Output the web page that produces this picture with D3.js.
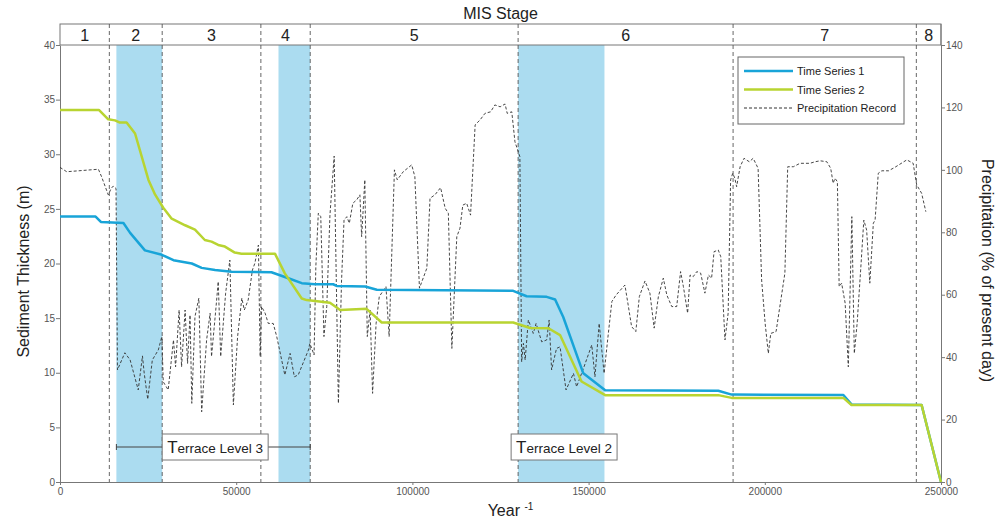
<!DOCTYPE html>
<html>
<head>
<meta charset="utf-8">
<script src="https://cdn.jsdelivr.net/npm/d3@7"></script>
<style>
  body { margin: 0; background: #fff; }
  svg { display: block; font-family: "Liberation Sans", Arial, sans-serif; }
</style>
</head>
<body>
<svg id="chart" width="997" height="520"></svg>
<script>
// MIS stage boundaries (years) and names
const stageBounds = [0, 14000, 29000, 57000, 71000, 130000, 191000, 243000, 250000];
const stageNames = ["1", "2", "3", "4", "5", "6", "7", "8"];

// shaded periods
const bands = [[16000, 29000], [62000, 71000], [130000, 154500]];

// Time Series 1 : [year, thickness m]
const series1 = [
  [0, 24.3], [10100, 24.3], [11600, 23.8], [18000, 23.7], [19900, 22.8], [24100, 21.2],
  [28900, 20.8], [32200, 20.3], [37400, 20.0], [40200, 19.6], [44000, 19.4], [48700, 19.25],
  [60000, 19.2], [64800, 18.65], [68600, 18.2], [72400, 18.1], [77500, 18.1], [78500, 17.95],
  [86600, 17.9], [89900, 17.6], [128600, 17.5], [132400, 17.0], [138100, 16.95], [140500, 16.7],
  [142800, 15.1], [148500, 9.95], [154700, 8.4], [186800, 8.35], [190600, 8.0], [222300, 7.96],
  [224600, 7.1], [244500, 7.05], [250000, 0]
];

// Time Series 2 : [year, thickness m]
const series2 = [
  [0, 34.05], [11100, 34.05], [13700, 33.2], [15600, 33.1], [17000, 32.9], [18900, 32.9],
  [21300, 31.9], [25100, 27.65], [27000, 26.3], [29300, 25.1], [31700, 24.1], [35500, 23.5],
  [38300, 23.1], [41100, 22.15], [43000, 22.0], [44900, 21.7], [46800, 21.55], [49600, 21.0],
  [51500, 20.9], [61000, 20.9], [63800, 19.1], [68600, 16.8], [70000, 16.65], [76600, 16.4],
  [79500, 15.75], [87000, 15.85], [91300, 14.6], [128600, 14.6], [133400, 14.1], [138600, 14.07],
  [141900, 13.45], [148000, 9.2], [154700, 7.95], [186800, 7.95], [190600, 7.7], [222300, 7.7],
  [224600, 7.05], [244500, 7.05], [250000, 0]
];

// Precipitation record : [year, % of present day]
const precip = [
  [0, 100.8], [1900, 99.4], [10900, 100.2], [11800, 97.8], [13700, 92], [14500, 94], [15100, 94.8],
  [15900, 94], [16300, 35.9], [18400, 41.4], [19900, 39.1], [22200, 29.5], [23400, 40.4],
  [23900, 34.8], [24900, 26.5], [26200, 39.1], [27900, 42.3], [28900, 46.6], [29300, 32.1],
  [30700, 29.5], [32200, 45.5], [32800, 36.9], [33800, 55.1], [34500, 36.9], [35500, 55.1],
  [36200, 38], [36900, 53.5], [37400, 25.2], [38300, 53], [39400, 58.9], [40200, 22.5],
  [41600, 45.5], [42600, 54.1], [43000, 40.2], [44200, 55.1], [44900, 64.2], [45600, 40.2],
  [47000, 60.5], [48200, 71.1], [49200, 24.7], [50400, 46.6], [51600, 58.9], [52300, 55.1],
  [53400, 58.3], [54600, 67.9], [55300, 70.1], [56300, 75.9], [56800, 40.2], [57200, 56.2],
  [58200, 54.1], [59100, 50.8], [60500, 50.8], [61500, 46.6], [63800, 34.3], [65300, 41.2],
  [66500, 33.7], [67600, 34.3], [70500, 42.3], [70900, 44.4], [72100, 40.7], [72600, 69],
  [73300, 86.1], [74000, 85], [74900, 46.6], [75700, 56.2], [76600, 85.5], [77800, 104.4],
  [79000, 25.2], [79900, 64.7], [80600, 83.9], [81400, 85], [82100, 82.9], [83100, 89.3],
  [84200, 90.4], [85100, 92], [85600, 78.6], [86500, 96.8], [87200, 46.6], [88000, 55.1],
  [88700, 28.4], [89700, 50.8], [90600, 59.4], [92500, 62.6], [93400, 46.6], [94900, 100],
  [95700, 96.8], [97400, 99.4], [99800, 101.6], [100700, 97.8], [102000, 62.1], [104100, 68.5],
  [105000, 90.9], [106400, 92], [108000, 94.3], [109300, 87.7], [110200, 86.1], [111200, 42.8],
  [112600, 78.6], [113500, 81.3], [114300, 88.7], [115400, 89.3], [116500, 85.5], [117800, 114.4],
  [119200, 116], [120600, 118.1], [122200, 118.6], [123400, 120.8], [124900, 120.2], [126300, 121.1],
  [126900, 118.1], [128200, 118.6], [129100, 109], [130500, 104.2], [131000, 38.5], [131500, 44.4],
  [132000, 39.1], [132900, 51.9], [133600, 49.8], [134300, 47.6], [135100, 50.8], [136700, 44.9],
  [138100, 45.5], [138800, 51.9], [139500, 35.9], [140900, 42.8], [141900, 43.3], [143600, 29.5],
  [145700, 34.8], [146600, 30.5], [148700, 36.9], [150900, 43.9], [151800, 33.7], [153000, 50.8],
  [154400, 34.8], [155600, 47.6], [156600, 57.8], [157800, 59.9], [160300, 63.1], [161300, 56.2],
  [162200, 49.8], [163400, 48.2], [164400, 59.4], [166000, 64.4], [167400, 60.5], [168600, 49.3],
  [169800, 59.4], [171200, 65.3], [172200, 59.9], [173600, 56.2], [175000, 56.2], [176100, 67.4],
  [176900, 62.6], [178100, 54.1], [178800, 66.3], [179700, 65.8], [180700, 67.4], [181800, 66.9],
  [183000, 60.5], [184000, 66.3], [184900, 65.3], [185600, 73.8], [186800, 74.3], [187500, 72.2],
  [188700, 45.5], [189600, 54.1], [190300, 96.8], [190900, 98.9], [191500, 97.3], [192000, 94.6],
  [193000, 101], [194100, 103.7], [195600, 102.6], [196700, 103.7], [198100, 100.5], [199100, 64.7],
  [200100, 50.8], [201000, 41.2], [201700, 47.6], [203200, 48.2], [205700, 66.9], [206500, 101],
  [208100, 101], [210000, 102.1], [212800, 102.1], [214300, 102.6], [215700, 102.9], [217600, 102.6],
  [218700, 100.5], [219400, 95.7], [219900, 97.3], [220600, 96.2], [221100, 62.6], [221800, 63.7],
  [222800, 57.3], [223700, 36.9], [224700, 85], [225400, 41.2], [226200, 50.8], [227200, 67.9],
  [228100, 83.9], [228900, 80.7], [229800, 63.7], [230800, 82.9], [231300, 83.9], [232200, 98.9],
  [233200, 99.7], [235100, 99.7], [236900, 100.8], [240300, 103.2], [242100, 102.1], [243100, 95.2],
  [244500, 92.5], [245700, 86.6]
];

// axis ticks
const xTicks = [0, 50000, 100000, 150000, 200000, 250000];
const leftTicks = [0, 5, 10, 15, 20, 25, 30, 35, 40];
const rightTicks = [0, 20, 40, 60, 80, 100, 120, 140];

// terrace labels: [from year, to year, text, drawRange]
const terraces = [
  [16000, 71000, "Level 3", true],
  [130000, 154500, "Level 2", false]
];

const blue = "#18a4d8";
const green = "#b8d431";
const bandColor = "#abdcf0";
const gridGrey = "#555";

const svg = d3.select("#chart");

const plotLeft = 60, plotRight = 941, plotTop = 45, plotBottom = 482, stripTop = 24;

const x = d3.scaleLinear().domain([0, 250000]).range([plotLeft, plotRight]);
const yL = d3.scaleLinear().domain([0, 40]).range([plotBottom, plotTop]);
const yR = d3.scaleLinear().domain([0, 140]).range([plotBottom, plotTop]);

// shaded bands
svg.append("g").selectAll("rect")
  .data(bands)
  .join("rect")
  .attr("x", d => x(d[0]))
  .attr("y", plotTop)
  .attr("width", d => x(d[1]) - x(d[0]))
  .attr("height", plotBottom - plotTop)
  .attr("fill", bandColor);

// stage strip
svg.append("rect")
  .attr("x", plotLeft).attr("y", stripTop)
  .attr("width", plotRight - plotLeft).attr("height", plotTop - stripTop)
  .attr("fill", "none").attr("stroke", "#777").attr("stroke-width", 1);

svg.append("g").selectAll("text")
  .data(stageNames)
  .join("text")
  .attr("x", (d, i) => (x(stageBounds[i]) + x(stageBounds[i + 1])) / 2)
  .attr("y", 41)
  .attr("text-anchor", "middle")
  .attr("font-size", 16)
  .attr("fill", "#222")
  .text(d => d);

svg.append("text")
  .attr("x", (plotLeft + plotRight) / 2).attr("y", 19)
  .attr("text-anchor", "middle")
  .attr("font-size", 16)
  .attr("fill", "#222")
  .text("MIS Stage");

// stage dividers
svg.append("g").selectAll("line")
  .data(stageBounds.slice(1, -1))
  .join("line")
  .attr("x1", d => x(d)).attr("x2", d => x(d))
  .attr("y1", stripTop).attr("y2", plotBottom)
  .attr("stroke", gridGrey)
  .attr("stroke-width", 0.9)
  .attr("stroke-dasharray", "4,3");

// axes
const axisL = svg.append("g")
  .attr("transform", `translate(${plotLeft},0)`)
  .call(d3.axisLeft(yL).tickValues(leftTicks).tickSize(4).tickSizeOuter(0));
const axisR = svg.append("g")
  .attr("transform", `translate(${plotRight},0)`)
  .call(d3.axisRight(yR).tickValues(rightTicks).tickSize(4).tickSizeOuter(0));
const axisB = svg.append("g")
  .attr("transform", `translate(0,${plotBottom})`)
  .call(d3.axisBottom(x).tickValues(xTicks).tickFormat(d3.format("d")).tickSize(3).tickSizeOuter(0));

[axisL, axisR, axisB].forEach(a => {
  a.select(".domain").attr("stroke", "#777");
  a.selectAll(".tick line").attr("stroke", "#777");
  a.selectAll(".tick text")
    .attr("fill", "#555")
    .attr("font-size", 10)
    .attr("font-family", "'Liberation Sans', Arial, sans-serif");
});
axisL.selectAll(".tick text").attr("x", -5);
axisR.selectAll(".tick text").attr("x", 5);
axisB.selectAll(".tick text").attr("y", 6);

// right axis line up through the strip
svg.append("line")
  .attr("x1", plotRight).attr("x2", plotRight)
  .attr("y1", stripTop).attr("y2", plotTop)
  .attr("stroke", "#777");

// axis titles
svg.append("text")
  .attr("transform", `translate(29,${(plotTop + plotBottom) / 2 + 8}) rotate(-90)`)
  .attr("text-anchor", "middle")
  .attr("font-size", 16)
  .attr("fill", "#222")
  .text("Sediment Thickness (m)");

svg.append("text")
  .attr("transform", `translate(982,${(plotTop + plotBottom) / 2 + 7}) rotate(90)`)
  .attr("text-anchor", "middle")
  .attr("font-size", 16)
  .attr("fill", "#222")
  .text("Precipitation (% of present day)");

const xt = svg.append("text")
  .attr("x", (plotLeft + plotRight) / 2 + 10).attr("y", 516)
  .attr("text-anchor", "middle")
  .attr("font-size", 16)
  .attr("fill", "#222");
xt.append("tspan").text("Year ");
xt.append("tspan").attr("font-size", 10).attr("dy", -6).text("-1");

// lines
const precipLine = d3.line().x(d => x(d[0])).y(d => yR(d[1]));
const sedLine = d3.line().x(d => x(d[0])).y(d => yL(d[1]));

svg.append("path")
  .datum(precip)
  .attr("d", precipLine)
  .attr("fill", "none")
  .attr("stroke", "#333")
  .attr("stroke-width", 0.9)
  .attr("stroke-dasharray", "3,2");

svg.append("path")
  .datum(series1)
  .attr("d", sedLine)
  .attr("fill", "none")
  .attr("stroke", blue)
  .attr("stroke-width", 2.5)
  .attr("stroke-linejoin", "round");

svg.append("path")
  .datum(series2)
  .attr("d", sedLine)
  .attr("fill", "none")
  .attr("stroke", green)
  .attr("stroke-width", 2.5)
  .attr("stroke-linejoin", "round");

// terrace labels
terraces.forEach(t => {
  const g = svg.append("g");
  const x0 = x(t[0]), x1 = x(t[1]);
  const cy = 447;
  if (t[3]) {
    g.append("line").attr("x1", x0).attr("x2", x1).attr("y1", cy).attr("y2", cy)
      .attr("stroke", "#444").attr("stroke-width", 1);
    [x0, x1].forEach(px => g.append("line")
      .attr("x1", px).attr("x2", px).attr("y1", cy - 3).attr("y2", cy + 3)
      .attr("stroke", "#444"));
  }
  const bx = t[3] ? x(29000) : x(t[0]) - 7;
  const txt = g.append("text")
    .attr("x", bx + 5).attr("y", cy + 6)
    .attr("fill", "#222");
  txt.append("tspan").attr("font-size", 17).text("T");
  txt.append("tspan").attr("font-size", 13.5).text("errace " + t[2]);
  const w = txt.node().getComputedTextLength();
  g.insert("rect", "text")
    .attr("x", bx).attr("y", cy - 13)
    .attr("width", w + 10).attr("height", 26)
    .attr("fill", "#fff").attr("stroke", "#777").attr("stroke-width", 1);
});

// legend
const legend = svg.append("g").attr("transform", "translate(738,57)");
legend.append("rect")
  .attr("width", 166).attr("height", 67)
  .attr("fill", "#fff").attr("stroke", "#666");
const items = [
  ["Time Series 1", blue, 2.5, null],
  ["Time Series 2", green, 2.5, null],
  ["Precipitation Record", "#333", 1, "3,2"]
];
items.forEach((it, i) => {
  const ly = 14 + i * 18.5;
  legend.append("line")
    .attr("x1", 6).attr("x2", 55).attr("y1", ly).attr("y2", ly)
    .attr("stroke", it[1]).attr("stroke-width", it[2])
    .attr("stroke-dasharray", it[3]);
  legend.append("text")
    .attr("x", 59).attr("y", ly + 4)
    .attr("font-size", 11)
    .attr("fill", "#222")
    .text(it[0]);
});
</script>
</body>
</html>
